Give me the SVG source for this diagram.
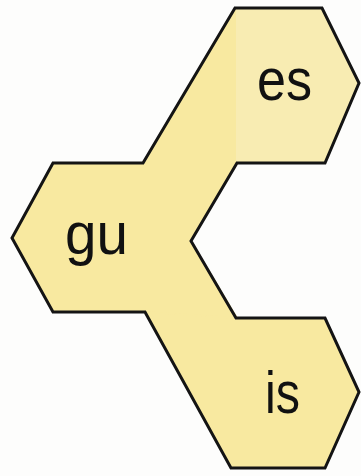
<svg xmlns="http://www.w3.org/2000/svg" width="361" height="476" viewBox="0 0 361 476">
<style>
.fill{fill:#f8e9a0;stroke:#f8e9a0;stroke-width:1.5}
.pale{fill:#f8ecb2;stroke:none}
.outline{fill:none;stroke:#141414;stroke-width:3;stroke-linejoin:miter}
.lbl{font-family:"Liberation Sans",Arial,sans-serif;font-size:60px;fill:#111}
</style>
<rect width="361" height="476" fill="#fdfdfc"/>
<g id="node-es">
<polygon class="fill" points="235,8 322,8 359,83 325,163 143,163"/>
<polygon class="pale" points="236,9 322,9 358,83 325,162 236,162"/>
<text class="lbl" x="257" y="100" textLength="55" lengthAdjust="spacingAndGlyphs">es</text>
</g>
<g id="node-gu">
<polygon class="fill" points="12,238 53,163 237,163 191,241 237,318 145,312 53,312"/>
<text class="lbl" x="65" y="254" textLength="63" lengthAdjust="spacingAndGlyphs">gu</text>
</g>
<g id="node-is">
<polygon class="fill" points="145,312 236,318 325,318 359,392 325,468 231,468"/>
<text class="lbl" x="265" y="413" textLength="35" lengthAdjust="spacingAndGlyphs">is</text>
</g>
<g id="connectors">
<path class="outline" d="M235,8 L322,8 L359,83 L325,163 L237,163 L191,241 L236,318 L325,318 L359,392 L325,468 L231,468 L145,312 L53,312 L12,238 L53,163 L143,163 Z"/>
</g>
</svg>
